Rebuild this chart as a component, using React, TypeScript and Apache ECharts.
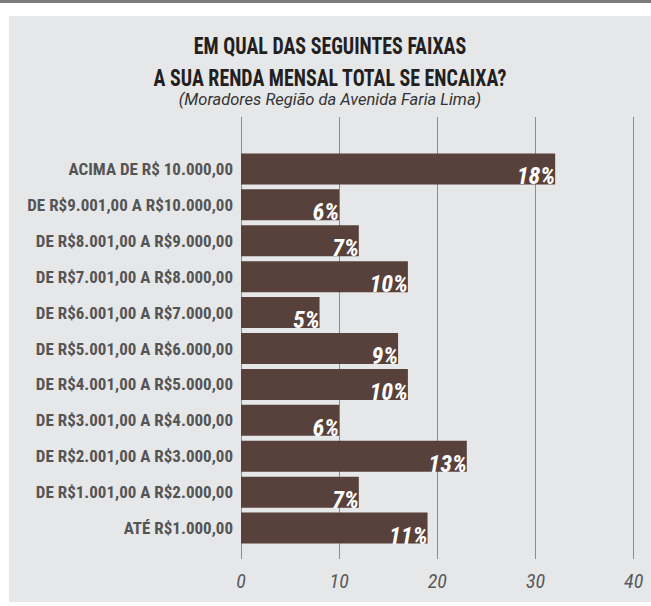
import React, { useEffect, useRef } from "react";
import * as echarts from "echarts";

const categories: string[] = [
  "ACIMA DE R$ 10.000,00",
  "DE R$9.001,00 A R$10.000,00",
  "DE R$8.001,00 A R$9.000,00",
  "DE R$7.001,00 A R$8.000,00",
  "DE R$6.001,00 A R$7.000,00",
  "DE R$5.001,00 A R$6.000,00",
  "DE R$4.001,00 A R$5.000,00",
  "DE R$3.001,00 A R$4.000,00",
  "DE R$2.001,00 A R$3.000,00",
  "DE R$1.001,00 A R$2.000,00",
  "ATÉ R$1.000,00",
];
const counts: number[] = [32, 10, 12, 17, 8, 16, 17, 10, 23, 12, 19];
const percentLabels: string[] = ["18%", "6%", "7%", "10%", "5%", "9%", "10%", "6%", "13%", "7%", "11%"];
const axisMin = 0;
const axisMax = 40;
const axisStep = 10;

const titleLines: string[] = ["EM QUAL DAS SEGUINTES FAIXAS", "A SUA RENDA MENSAL TOTAL SE ENCAIXA?"];
const subtitle = "(Moradores Região da Avenida Faria Lima)";

const COND = "'Roboto Condensed', 'Liberation Sans Narrow', 'DejaVu Sans Condensed', Roboto, sans-serif";

export default function App() {
  const ref = useRef<HTMLDivElement>(null);
  useEffect(() => {
    if (!ref.current) return;
    const chart = echarts.init(ref.current, null, { renderer: "svg" });
    const titleText = (text: string, y: number) => ({
      type: "text",
      x: 330,
      y,
      scaleX: 0.83,
      style: {
        text,
        fontFamily: COND,
        fontWeight: "bold",
        fontSize: 24,
        fill: "#231f20",
        textAlign: "center",
        textVerticalAlign: "middle",
      },
    });
    chart.setOption({
      animation: false,
      backgroundColor: "#ffffff",
      graphic: [
        { type: "rect", z: -10, shape: { x: 0, y: 0, width: 651, height: 3 }, style: { fill: "#7b7b7b" } },
        { type: "rect", z: -10, shape: { x: 9, y: 16, width: 642, height: 586 }, style: { fill: "#e6e7e9" } },
        titleText(titleLines[0], 46),
        titleText(titleLines[1], 78),
        {
          type: "text",
          x: 330,
          y: 99,
          style: {
            text: subtitle,
            fontFamily: "Roboto, sans-serif",
            fontStyle: "italic",
            fontSize: 16.5,
            fill: "#333",
            textAlign: "center",
            textVerticalAlign: "middle",
          },
        },
      ],
      grid: [
        { left: 241, right: 17.3, top: 151, bottom: 60 },
        { left: 241, right: 17.3, top: 117, bottom: 47 },
      ],
      xAxis: [
        { type: "value", gridIndex: 0, min: axisMin, max: axisMax, interval: axisStep, show: false },
        {
          type: "value", gridIndex: 1, min: axisMin, max: axisMax, interval: axisStep,
          axisLine: { show: false }, axisTick: { show: false },
          splitLine: { show: true, lineStyle: { color: "#8c8c8c", width: 1 } },
          axisLabel: { margin: 12, fontFamily: COND, fontStyle: "italic", fontWeight: "normal", fontSize: 20, color: "#5a5a5a" },
        },
      ],
      yAxis: [
        {
          type: "category", gridIndex: 0, data: categories, inverse: true,
          axisLine: { show: false }, axisTick: { show: false },
          axisLabel: { margin: 8, fontFamily: COND, fontWeight: "bold", fontSize: 17, color: "#555" },
        },
        { type: "value", gridIndex: 1, show: false },
      ],
      series: [
        {
          type: "bar",
          xAxisIndex: 0, yAxisIndex: 0,
          data: counts,
          barWidth: 31,
          itemStyle: { color: "#58403b" },
          label: {
            show: true,
            position: "insideBottomRight",
            distance: 0,
            offset: [0, 4],
            formatter: (p: any) => percentLabels[p.dataIndex],
            fontFamily: COND,
            fontStyle: "italic",
            fontWeight: "bold",
            fontSize: 24,
            color: "#ffffff",
          },
        },
      ],
    });
    return () => chart.dispose();
  }, []);
  return <div ref={ref} style={{ position: "fixed", left: 0, top: 0, width: 651, height: 606 }} />;
}
